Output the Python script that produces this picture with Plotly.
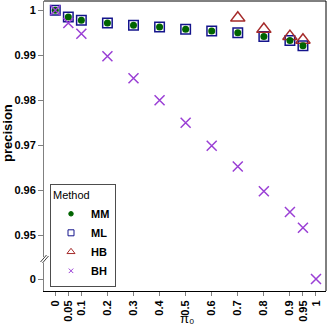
import plotly.graph_objects as go

# ---------------- data ----------------
pi0 = [0, 0.05, 0.1, 0.2, 0.3, 0.4, 0.5, 0.6, 0.7, 0.8, 0.9, 0.95, 1]
mm = [1.0, 0.9985, 0.9978, 0.9972, 0.9967, 0.9963, 0.9958, 0.9954, 0.9950, 0.9942, 0.9933, 0.9921, None]
ml = [1.0, 0.9985, 0.9978, 0.9972, 0.9967, 0.9963, 0.9958, 0.9954, 0.9950, 0.9942, 0.9933, 0.9921, None]
hb = [None, None, None, None, None, None, None, None, 0.9983, 0.9958, 0.9942, 0.9934, None]
bh = [1.0, 0.9972, 0.9948, 0.9898, 0.9849, 0.9800, 0.9750, 0.9699, 0.9653, 0.9598, 0.9552, 0.9517, 0.0]

x_ticks = [0, 0.05, 0.1, 0.2, 0.3, 0.4, 0.5, 0.6, 0.7, 0.8, 0.9, 0.95, 1]
x_tick_labels = ["0", "0.05", "0.1", "0.2", "0.3", "0.4", "0.5", "0.6", "0.7", "0.8", "0.9", "0.95", "1"]
y_upper_ticks = [1, 0.99, 0.98, 0.97, 0.96, 0.95]
y_upper_labels = ["1", "0.99", "0.98", "0.97", "0.96", "0.95"]
y_lower_ticks = [0]
y_lower_labels = ["0"]

BREAK = 0.5  # values below this are drawn on the lower (broken) axis segment

FONT = "Liberation Sans, Arial, Helvetica, sans-serif"
GRAY = "#808080"

styles = {
    "MM": dict(symbol="circle", color="#006400", size=7, lw=0),
    "ML": dict(symbol="square-open", color="#14148c", size=9.5, lw=1.5),
    "HB": dict(symbol="triangle-up-open", color="#a52a2a", size=12.5, lw=1.5),
    "BH": dict(symbol="x-thin-open", color="#9a3fd5", size=10, lw=1.5),
}
legend_sizes = {"MM": 4.5, "ML": 6, "HB": 7, "BH": 4.5}
series = {"MM": mm, "ML": ml, "HB": hb, "BH": bh}


def split(vals):
    up = [v if (v is not None and v >= BREAK) else None for v in vals]
    lo = [v if (v is not None and v < BREAK) else None for v in vals]
    return up, lo


fig = go.Figure()

for name in ["ML", "HB", "MM", "BH"]:
    st = styles[name]
    up, lo = split(series[name])
    mk = dict(symbol=st["symbol"], color=st["color"], size=st["size"],
              line=dict(color=st["color"], width=st["lw"]))
    fig.add_trace(go.Scatter(x=pi0, y=up, mode="markers", marker=mk, name=name,
                             showlegend=False, xaxis="x", yaxis="y", cliponaxis=False))
    if any(v is not None for v in lo):
        fig.add_trace(go.Scatter(x=pi0, y=lo, mode="markers", marker=mk, name=name,
                                 showlegend=False, xaxis="x", yaxis="y2", cliponaxis=False))

# legend entries (small symbols as in the reference)
for name in ["MM", "ML", "HB", "BH"]:
    st = styles[name]
    fig.add_trace(go.Scatter(x=[None], y=[None], mode="markers", name=name,
                             marker=dict(symbol=st["symbol"], color=st["color"],
                                         size=legend_sizes[name],
                                         line=dict(color=st["color"], width=1)),
                             xaxis="x", yaxis="y"))

L, R, T, B = 44, 1, 1, 36
W = H = 327
pw, ph = W - L - R, H - T - B


def px(xp):
    return (xp - L) / pw


def py(yp):
    return (H - B - yp) / ph


axis_font = dict(family=FONT, size=11, color="black", weight="bold")

fig.update_layout(
    width=W, height=H,
    margin=dict(l=L, r=R, t=T, b=B, autoexpand=False),
    paper_bgcolor="white", plot_bgcolor="white",
    font=dict(family=FONT, size=11, color="black"),
    xaxis=dict(domain=[0, 1], anchor="y2", range=[-0.0433, 1.0384],
               tickmode="array", tickvals=x_ticks, ticktext=x_tick_labels,
               tickangle=-90, ticks="outside", ticklen=4, tickcolor=GRAY, tickwidth=1,
               showline=True, linecolor="black", linewidth=1,
               showgrid=False, zeroline=False, tickfont=axis_font),
    yaxis=dict(domain=[py(257), 1], anchor="x", range=[0.94518, 1.00207],
               tickmode="array", tickvals=y_upper_ticks, ticktext=y_upper_labels,
               ticks="outside", ticklen=5, tickcolor=GRAY, tickwidth=1,
               showline=True, linecolor=GRAY, linewidth=1,
               showgrid=False, zeroline=False, tickfont=axis_font),
    yaxis2=dict(domain=[0, py(263)], anchor="x", range=[-0.002667, 0.003556],
                tickmode="array", tickvals=y_lower_ticks, ticktext=y_lower_labels,
                ticks="outside", ticklen=5, tickcolor=GRAY, tickwidth=1,
                showline=True, linecolor=GRAY, linewidth=1,
                showgrid=False, zeroline=False, tickfont=axis_font),
    legend=dict(x=px(50), xanchor="left", y=py(287), yanchor="bottom",
                bgcolor="white", bordercolor="#4d4d4d", borderwidth=1,
                font=dict(family=FONT, size=11, color="black", weight="bold"),
                title=dict(text="Method",
                           font=dict(family=FONT, size=11, color="black", weight="normal")),
                itemwidth=30, tracegroupgap=0, traceorder="normal"),
    shapes=[
        dict(type="line", xref="paper", yref="paper", x0=0, x1=1, y0=1, y1=1,
             line=dict(color="black", width=1)),
        dict(type="line", xref="paper", yref="paper", x0=1, x1=1, y0=0, y1=1,
             line=dict(color="black", width=1)),
        dict(type="line", xref="paper", yref="paper", x0=px(40.5), x1=px(46.5),
             y0=py(262), y1=py(255), line=dict(color="#404040", width=1)),
        dict(type="line", xref="paper", yref="paper", x0=px(42.5), x1=px(48.5),
             y0=py(263), y1=py(256), line=dict(color="#404040", width=1)),
    ],
    annotations=[
        dict(text="<b>precision</b>", xref="paper", yref="paper", x=px(7), y=py(133),
             xanchor="center", yanchor="middle", textangle=-90, showarrow=False,
             font=dict(family=FONT, size=13, color="black")),
        dict(text="π₀", xref="paper", yref="paper", x=px(187), y=py(318.5),
             xanchor="center", yanchor="middle", showarrow=False,
             font=dict(family=FONT, size=13, color="black")),
    ],
)

fig.write_html("out.html", config={"displayModeBar": False},
               post_script="document.body.style.margin='0';document.body.style.overflow='hidden';")
